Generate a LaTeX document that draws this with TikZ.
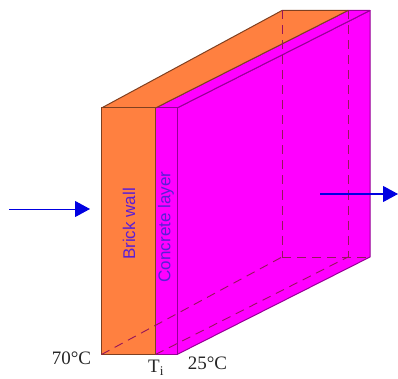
\documentclass[tikz,border=0pt]{standalone}
\usepackage{fontspec}
\setmainfont{Liberation Serif}
\setsansfont{Liberation Sans}
\usetikzlibrary{arrows.meta}
\definecolor{brick}{RGB}{255,128,64}
\definecolor{conc}{RGB}{255,0,255}
\definecolor{edgeb}{RGB}{128,64,32}
\definecolor{edgec}{RGB}{150,0,150}
\definecolor{hid}{RGB}{150,20,90}
\definecolor{arrowblue}{RGB}{0,0,225}
\definecolor{labelblue}{RGB}{90,30,215}
\tikzset{
  brickface/.style={fill=brick,draw=edgeb,line width=1pt,line join=round},
  concface/.style={fill=conc,draw=edgec,line width=1pt,line join=round},
  hidden/.style={draw=hid,line width=0.9pt,dash pattern=on 9pt off 6pt},
  flow/.style={draw=arrowblue,line width=1pt,-{Triangle[length=15pt,width=16pt]}},
  templabel/.style={font=\fontsize{19}{21}\selectfont,text=black!85,inner sep=0pt},
  walllabel/.style={font=\sffamily\fontsize{17}{19}\selectfont,text=labelblue,rotate=90,inner sep=0pt}
}
\begin{document}
\begin{tikzpicture}[x=1pt,y=-1pt]
\useasboundingbox (0,0) rectangle (398,379);
\coordinate (A) at (101.5,108);
\coordinate (B) at (155.5,108);
\coordinate (C) at (177,108);
\coordinate (D) at (101.5,354.5);
\coordinate (E) at (155.5,354.5);
\coordinate (F) at (177,354.5);
\coordinate (G) at (282,10.5);
\coordinate (H) at (348,10.5);
\coordinate (I) at (370,10.5);
\coordinate (J) at (282,257);
\coordinate (K) at (348,257);
\coordinate (L) at (370,257);
\coordinate (in1) at (9,209);
\coordinate (in2) at (90,209);
\coordinate (out1) at (320,194);
\coordinate (out2) at (398,194);
% faces
\draw[concface] (C) -- (I) -- (L) -- (F) -- cycle;
\draw[concface] (B) -- (H) -- (I) -- (C) -- cycle;
\draw[concface] (B) -- (C) -- (F) -- (E) -- cycle;
\draw[brickface] (A) -- (G) -- (H) -- (B) -- cycle;
\draw[brickface] (A) -- (B) -- (E) -- (D) -- cycle;
% hidden edges
\draw[hidden] (G) -- (J);
\draw[hidden] (H) -- (K);
\draw[hidden] (J) -- (L);
\draw[hidden] (D) -- (J);
\draw[hidden] (E) -- (K);
% flow arrows
\draw[flow] (in1) -- (in2);
\draw[flow] (out1) -- (out2);
% labels
\node[walllabel] (brick) at (129,224) {Brick wall};
\node[walllabel] (concrete) at (166,227) {Concrete layer};
\node[templabel] (hot) at (71.5,358) {70°C};
\node[templabel,anchor=north west] (ti) at (148,360) {T\textsubscript{i}};
\node[templabel] (cold) at (207.5,363) {25°C};
\end{tikzpicture}
\end{document}
